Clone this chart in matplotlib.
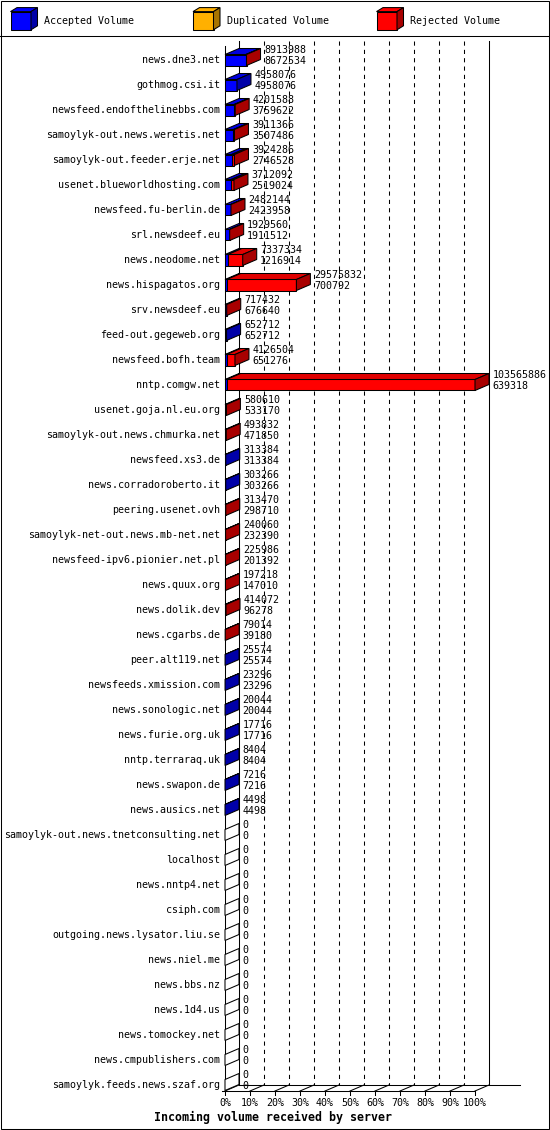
import numpy as np
import matplotlib
matplotlib.use("Agg")
import matplotlib.pyplot as plt
from matplotlib.patches import Polygon, Rectangle

# data (bytes)
servers = [
    "news.dne3.net", "gothmog.csi.it", "newsfeed.endofthelinebbs.com",
    "samoylyk-out.news.weretis.net", "samoylyk-out.feeder.erje.net",
    "usenet.blueworldhosting.com", "newsfeed.fu-berlin.de", "srl.newsdeef.eu",
    "news.neodome.net", "news.hispagatos.org", "srv.newsdeef.eu",
    "feed-out.gegeweb.org", "newsfeed.bofh.team", "nntp.comgw.net",
    "usenet.goja.nl.eu.org", "samoylyk-out.news.chmurka.net", "newsfeed.xs3.de",
    "news.corradoroberto.it", "peering.usenet.ovh", "samoylyk-net-out.news.mb-net.net",
    "newsfeed-ipv6.pionier.net.pl", "news.quux.org", "news.dolik.dev",
    "news.cgarbs.de", "peer.alt119.net", "newsfeeds.xmission.com",
    "news.sonologic.net", "news.furie.org.uk", "nntp.terraraq.uk",
    "news.swapon.de", "news.ausics.net", "samoylyk-out.news.tnetconsulting.net",
    "localhost", "news.nntp4.net", "csiph.com", "outgoing.news.lysator.liu.se",
    "news.niel.me", "news.bbs.nz", "news.1d4.us", "news.tomockey.net",
    "news.cmpublishers.com", "samoylyk.feeds.news.szaf.org",
]
total_volume = [8913988, 4958076, 4201588, 3911366, 3924286, 3712092, 2482144,
                1929560, 7337334, 29575832, 717432, 652712, 4126504, 103565886,
                580610, 493832, 313384, 303266, 313470, 240060, 225986, 197218,
                414072, 79014, 25574, 23296, 20044, 17716, 8404, 7216, 4498,
                0, 0, 0, 0, 0, 0, 0, 0, 0, 0, 0]
accepted_volume = [8672534, 4958076, 3759622, 3507486, 2746528, 2519024, 2423958,
                   1911512, 1216914, 700792, 676640, 652712, 651276, 639318,
                   533170, 471850, 313384, 303266, 298710, 232390, 201392, 147010,
                   96278, 39180, 25574, 23296, 20044, 17716, 8404, 7216, 4498,
                   0, 0, 0, 0, 0, 0, 0, 0, 0, 0, 0]
duplicated_volume = [0] * len(servers)
rejected_volume = [t - a - d for t, a, d in zip(total_volume, accepted_volume, duplicated_volume)]

legend_labels = ["Accepted Volume", "Duplicated Volume", "Rejected Volume"]
face_colors = ["#0000ff", "#ffb000", "#ff0000"]
top_colors = ["#0000e0", "#e89f00", "#e00000"]
side_colors = ["#0000a8", "#a87400", "#a80000"]
tick_labels = ["%d%%" % p for p in range(0, 101, 10)]

FONT = "DejaVu Sans Mono"
FS = 7.2
LW = 0.75

W, H = 550, 1130
fig = plt.figure(figsize=(W / 100, H / 100), dpi=100)
fig.patch.set_facecolor("white")

# ---- main plot axes: x in bytes, y in rows (pixel layout matched to the original)
n = len(servers)
vmax = max(total_volume)
front_left, front_right = 225, 475
ax_top, floor_px = 37, 1091
row0, step = 60, 25.0
ax = fig.add_axes([front_left / W, 1 - floor_px / H,
                   (front_right - front_left) / W, (floor_px - ax_top) / H])
ax.set_xlim(0, vmax)
ax.set_ylim((floor_px - row0) / step, (ax_top - row0) / step)
ax.axis("off")


def xpx(p):  # pixel length -> value units
    return p * vmax / (front_right - front_left)


def ypx(p):  # pixel length -> row units
    return p / step


DX, DY = xpx(14), -ypx(6)
HALF = ypx(5.5)
floor_front = (floor_px - row0) / step
floor_back = floor_front + DY
wall_top = ypx(41 - row0)

# back wall, floor and grid
ax.plot([DX, DX], [wall_top, floor_back], color="black", lw=LW, clip_on=False, zorder=1)
ax.plot([vmax + DX] * 2, [wall_top, floor_back], color="black", lw=LW, clip_on=False, zorder=1)
ax.plot([0, 0], [ypx(46 - row0), floor_front], color="black", lw=LW, clip_on=False, zorder=1)
ax.plot([DX, xpx(520 - front_left)], [floor_back, floor_back], color="black", lw=LW,
        clip_on=False, zorder=1)
ax.plot([-xpx(3), vmax], [floor_front, floor_front], color="black", lw=LW, clip_on=False, zorder=1)
ticks = np.linspace(0, vmax, 11)
for k, tx in enumerate(ticks):
    if 0 < k < 10:
        ax.plot([tx + DX] * 2, [wall_top, floor_back], color="black", lw=LW,
                ls=(0, (4, 4)), clip_on=False, zorder=1)
    ax.plot([tx, tx + DX], [floor_front, floor_back], color="black", lw=LW, clip_on=False, zorder=1)
    ax.plot([tx, tx], [floor_front, floor_front + ypx(4)], color="black", lw=LW,
            clip_on=False, zorder=1)
    ax.text(tx, floor_front + ypx(15.5), tick_labels[k], ha="center", va="baseline",
            family=FONT, fontsize=FS, clip_on=False)


def poly(pts, fc, z=3):
    ax.add_patch(Polygon(pts, closed=True, facecolor=fc, edgecolor="black", lw=LW,
                         clip_on=False, zorder=z, joinstyle="miter"))


# 3D stacked bars
for i in range(n):
    yt, yb = i - HALF, i + HALF
    segs = [accepted_volume[i], duplicated_volume[i], rejected_volume[i]]
    start = 0
    last = None
    for j, v in enumerate(segs):
        if v <= 0:
            continue
        end = start + v
        poly([(start, yt), (end, yt), (end, yb), (start, yb)], face_colors[j])
        poly([(start, yt), (end, yt), (end + DX, yt + DY), (start + DX, yt + DY)], top_colors[j])
        last = j
        start = end
    side_fc = side_colors[last] if last is not None else "white"
    poly([(start, yt), (start, yb), (start + DX, yb + DY), (start + DX, yt + DY)], side_fc)
    # labels
    ax.text(-xpx(5), i + ypx(3.3), servers[i], ha="right", va="baseline",
            family=FONT, fontsize=FS, clip_on=False, zorder=4)
    lx = start + DX + xpx(3.5)
    ax.text(lx, i + ypx(-6.8), str(total_volume[i]), ha="left", va="baseline",
            family=FONT, fontsize=FS, clip_on=False, zorder=4)
    ax.text(lx, i + ypx(4.0), str(accepted_volume[i]), ha="left", va="baseline",
            family=FONT, fontsize=FS, clip_on=False, zorder=4)

# ---- frame, legend and title in pixel coordinates
fr = fig.add_axes([0, 0, 1, 1], zorder=-1)
fr.set_xlim(0, W)
fr.set_ylim(H, 0)
fr.axis("off")
fr.add_patch(Rectangle((0.5, 0.5), W - 1.5, H - 1.5, fill=False, edgecolor="black", lw=LW))
fr.plot([0, W], [36, 36], color="black", lw=LW)

leg = fig.add_axes([0, 0, 1, 1])
leg.set_xlim(0, W)
leg.set_ylim(H, 0)
leg.axis("off")
for j, (lx0, lab) in enumerate(zip([10.5, 193, 376.5], legend_labels)):
    x1, yt, yb = lx0 + 20.5, 11.6, 29.8
    for pts, fc in [
        ([(lx0, yt), (x1, yt), (x1, yb), (lx0, yb)], face_colors[j]),
        ([(lx0, yt), (x1, yt), (x1 + 6.5, yt - 4), (lx0 + 6.5, yt - 4)], face_colors[j]),
        ([(x1, yt), (x1, yb), (x1 + 6.5, yb - 4), (x1 + 6.5, yt - 4)], side_colors[j]),
    ]:
        leg.add_patch(Polygon(pts, closed=True, facecolor=fc, edgecolor="black", lw=LW))
    leg.text(lx0 + 34, 24.5, lab, ha="left", va="baseline", family=FONT, fontsize=FS)

leg.text(273, 1120.5, "Incoming volume received by server", ha="center", va="baseline",
         family=FONT, fontsize=8.4, fontweight="bold")

fig.savefig("out.png", dpi=100, facecolor="white")
